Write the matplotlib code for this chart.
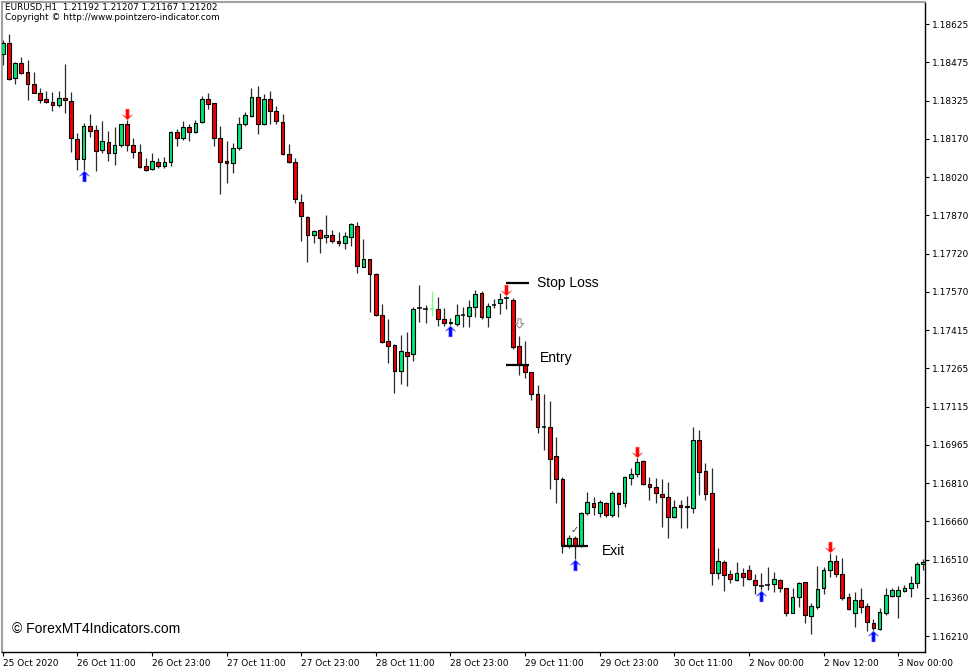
import numpy as np
import matplotlib
matplotlib.use("Agg")
import matplotlib.pyplot as plt

OUTPUT_FILE = "out.png"

# EURUSD H1 candles (one row of ten bars per line)
opens = [
    1.18507, 1.18549, 1.18411, 1.18470, 1.18437, 1.18387, 1.18354, 1.18328, 1.18318, 1.18305,
    1.18332, 1.18321, 1.18170, 1.18091, 1.18224, 1.18207, 1.18128, 1.18161, 1.18115, 1.18147,
    1.18231, 1.18148, 1.18121, 1.18065, 1.18052, 1.18081, 1.18065, 1.18080, 1.18200, 1.18177,
    1.18219, 1.18198, 1.18237, 1.18328, 1.18312, 1.18177, 1.18085, 1.18078, 1.18135, 1.18231,
    1.18262, 1.18338, 1.18231, 1.18328, 1.18282, 1.18237, 1.18111, 1.18080, 1.17922, 1.17863,
    1.17793, 1.17812, 1.17784, 1.17793, 1.17769, 1.17760, 1.17784, 1.17828, 1.17668, 1.17697,
    1.17638, 1.17476, 1.17374, 1.17357, 1.17257, 1.17330, 1.17322, 1.17504, 1.17501, 1.17501,
    1.17500, 1.17460, 1.17444, 1.17443, 1.17475, 1.17474, 1.17507, 1.17565, 1.17470, 1.17517,
    1.17523, 1.17543, 1.17536, 1.17355, 1.17280, 1.17251, 1.17164, 1.17036, 1.17034, 1.16921,
    1.16830, 1.16566, 1.16596, 1.16566, 1.16695, 1.16734, 1.16695, 1.16734, 1.16688, 1.16773,
    1.16734, 1.16833, 1.16850, 1.16901, 1.16809, 1.16800, 1.16770, 1.16760, 1.16681, 1.16727,
    1.16723, 1.16717, 1.16984, 1.16861, 1.16773, 1.16458, 1.16503, 1.16455, 1.16431, 1.16458,
    1.16471, 1.16431, 1.16409, 1.16412, 1.16414, 1.16431, 1.16399, 1.16302, 1.16363, 1.16422,
    1.16289, 1.16324, 1.16399, 1.16471, 1.16505, 1.16454, 1.16365, 1.16300, 1.16352, 1.16329,
    1.16263, 1.16237, 1.16302, 1.16369, 1.16369, 1.16388, 1.16399, 1.16418, 1.16493,
]
highs = [
    1.18562, 1.18586, 1.18477, 1.18496, 1.18483, 1.18437, 1.18372, 1.18361, 1.18358, 1.18361,
    1.18466, 1.18356, 1.18194, 1.18233, 1.18269, 1.18227, 1.18242, 1.18203, 1.18220, 1.18231,
    1.18247, 1.18174, 1.18151, 1.18095, 1.18117, 1.18098, 1.18100, 1.18203, 1.18210, 1.18242,
    1.18230, 1.18247, 1.18342, 1.18354, 1.18315, 1.18223, 1.18164, 1.18155, 1.18260, 1.18278,
    1.18372, 1.18381, 1.18348, 1.18361, 1.18302, 1.18269, 1.18151, 1.18095, 1.17953, 1.17868,
    1.17812, 1.17815, 1.17872, 1.17812, 1.17803, 1.17803, 1.17841, 1.17845, 1.17776, 1.17699,
    1.17642, 1.17520, 1.17460, 1.17361, 1.17398, 1.17410, 1.17510, 1.17594, 1.17515, 1.17572,
    1.17549, 1.17504, 1.17464, 1.17520, 1.17509, 1.17536, 1.17576, 1.17573, 1.17523, 1.17539,
    1.17563, 1.17552, 1.17543, 1.17394, 1.17376, 1.17253, 1.17201, 1.17165, 1.17139, 1.16994,
    1.16839, 1.16609, 1.16606, 1.16701, 1.16780, 1.16760, 1.16747, 1.16740, 1.16783, 1.16780,
    1.16843, 1.16872, 1.16912, 1.16905, 1.16839, 1.16833, 1.16830, 1.16817, 1.16747, 1.16747,
    1.16763, 1.17036, 1.17023, 1.16892, 1.16872, 1.16559, 1.16510, 1.16471, 1.16503, 1.16478,
    1.16491, 1.16455, 1.16458, 1.16484, 1.16464, 1.16434, 1.16401, 1.16399, 1.16425, 1.16425,
    1.16342, 1.16487, 1.16484, 1.16537, 1.16530, 1.16519, 1.16379, 1.16383, 1.16399, 1.16339,
    1.16276, 1.16320, 1.16401, 1.16401, 1.16409, 1.16412, 1.16447, 1.16503, 1.16513,
]
lows = [
    1.18464, 1.18404, 1.18387, 1.18427, 1.18325, 1.18352, 1.18315, 1.18312, 1.18283, 1.18299,
    1.18273, 1.18121, 1.18049, 1.18049, 1.18181, 1.18046, 1.18115, 1.18086, 1.18069, 1.18141,
    1.18125, 1.18098, 1.18056, 1.18046, 1.18049, 1.18056, 1.18056, 1.18066, 1.18144, 1.18168,
    1.18164, 1.18196, 1.18233, 1.18289, 1.18145, 1.17954, 1.17997, 1.18036, 1.18128, 1.18223,
    1.18258, 1.18191, 1.18227, 1.18231, 1.18231, 1.18108, 1.18076, 1.17918, 1.17770, 1.17687,
    1.17762, 1.17720, 1.17762, 1.17762, 1.17750, 1.17736, 1.17749, 1.17642, 1.17665, 1.17490,
    1.17473, 1.17365, 1.17289, 1.17170, 1.17205, 1.17198, 1.17297, 1.17451, 1.17447, 1.17474,
    1.17435, 1.17435, 1.17437, 1.17435, 1.17431, 1.17431, 1.17470, 1.17463, 1.17431, 1.17504,
    1.17481, 1.17500, 1.17343, 1.17240, 1.17227, 1.17142, 1.17013, 1.16944, 1.16789, 1.16734,
    1.16539, 1.16556, 1.16513, 1.16563, 1.16688, 1.16688, 1.16679, 1.16681, 1.16681, 1.16679,
    1.16718, 1.16806, 1.16839, 1.16806, 1.16747, 1.16734, 1.16642, 1.16596, 1.16675, 1.16635,
    1.16635, 1.16695, 1.16767, 1.16747, 1.16412, 1.16434, 1.16389, 1.16418, 1.16429, 1.16408,
    1.16431, 1.16376, 1.16392, 1.16392, 1.16385, 1.16385, 1.16291, 1.16300, 1.16326, 1.16263,
    1.16217, 1.16316, 1.16376, 1.16444, 1.16444, 1.16352, 1.16313, 1.16245, 1.16300, 1.16230,
    1.16234, 1.16234, 1.16293, 1.16365, 1.16283, 1.16385, 1.16363, 1.16401, 1.16471,
]
closes = [
    1.18550, 1.18408, 1.18470, 1.18433, 1.18387, 1.18354, 1.18325, 1.18319, 1.18305, 1.18332,
    1.18324, 1.18174, 1.18091, 1.18224, 1.18204, 1.18124, 1.18164, 1.18115, 1.18147, 1.18230,
    1.18148, 1.18121, 1.18062, 1.18049, 1.18085, 1.18065, 1.18081, 1.18198, 1.18174, 1.18219,
    1.18198, 1.18233, 1.18328, 1.18310, 1.18177, 1.18082, 1.18078, 1.18137, 1.18230, 1.18266,
    1.18338, 1.18231, 1.18328, 1.18282, 1.18244, 1.18111, 1.18080, 1.17934, 1.17868, 1.17793,
    1.17809, 1.17780, 1.17793, 1.17770, 1.17762, 1.17789, 1.17836, 1.17670, 1.17697, 1.17639,
    1.17476, 1.17372, 1.17355, 1.17256, 1.17336, 1.17316, 1.17500, 1.17504, 1.17501, 1.17501,
    1.17460, 1.17444, 1.17449, 1.17475, 1.17475, 1.17507, 1.17560, 1.17468, 1.17513, 1.17517,
    1.17539, 1.17543, 1.17352, 1.17282, 1.17251, 1.17164, 1.17034, 1.17036, 1.16909, 1.16830,
    1.16566, 1.16596, 1.16566, 1.16695, 1.16738, 1.16718, 1.16738, 1.16688, 1.16773, 1.16731,
    1.16837, 1.16850, 1.16898, 1.16810, 1.16800, 1.16776, 1.16760, 1.16679, 1.16721, 1.16721,
    1.16718, 1.16984, 1.16859, 1.16771, 1.16458, 1.16506, 1.16451, 1.16434, 1.16458, 1.16442,
    1.16434, 1.16410, 1.16409, 1.16412, 1.16434, 1.16399, 1.16302, 1.16363, 1.16418, 1.16293,
    1.16330, 1.16395, 1.16471, 1.16505, 1.16454, 1.16362, 1.16316, 1.16352, 1.16324, 1.16267,
    1.16241, 1.16304, 1.16372, 1.16392, 1.16392, 1.16399, 1.16418, 1.16495, 1.16501,
]

# indicator signals
buy_arrow_bars = [13, 72, 92, 122, 140]
sell_arrow_bars = [20, 81, 102, 133]
pale_bars = [69]
check_bar = 92
hint_arrow_bar = 83

# trade levels and the bars each marker line spans
stop_loss = 1.17602
entry_price = 1.17280
exit_price = 1.16566
entry_span = (80.9, 84.6)
exit_span = (89.9, 94.1)

price_labels = [
    "1.18625", "1.18475", "1.18325", "1.18170", "1.18020", "1.17870", "1.17720",
    "1.17570", "1.17415", "1.17265", "1.17115", "1.16965", "1.16810", "1.16660",
    "1.16510", "1.16360", "1.16210",
]
date_labels = [
    "25 Oct 2020", "26 Oct 11:00", "26 Oct 23:00", "27 Oct 11:00", "27 Oct 23:00",
    "28 Oct 11:00", "28 Oct 23:00", "29 Oct 11:00", "29 Oct 23:00", "30 Oct 11:00",
    "2 Nov 00:00", "2 Nov 12:00", "3 Nov 00:00",
]
bars_per_date_label = 12

header_line = "EURUSD,H1  1.21192 1.21207 1.21167 1.21202"
copyright_line = "Copyright \u00a9 http://www.pointzero-indicator.com"
watermark = "\u00a9 ForexMT4Indicators.com"

BULL = "#00E676"
BEAR = "#F00000"
WICK = "#2a2a2a"
PALE = "#7CFC7C"
UP_ARROW = [(0, 1), (0.95, 0.05), (0.3, 0.4), (0.3, -1), (-0.3, -1), (-0.3, 0.4), (-0.95, 0.05), (0, 1)]
DOWN_ARROW = [(x, -y) for x, y in UP_ARROW]
HOLLOW_DOWN = [(0, -1), (0.9, 0.0), (0.35, 0.0), (0.35, 1), (-0.35, 1), (-0.35, 0.0), (-0.9, 0.0), (0, -1)]


def draw_candles(ax):
    o = np.array(opens)
    h = np.array(highs)
    l = np.array(lows)
    c = np.array(closes)
    x = np.arange(len(o))

    wick_colors = [PALE if i in pale_bars else WICK for i in x]
    ax.vlines(x, l, h, colors=wick_colors, linewidth=0.9, zorder=2)

    body = c != o
    fills = np.where(c > o, BULL, BEAR)
    ax.bar(x[body], np.abs(c - o)[body], bottom=np.minimum(o, c)[body], width=0.6,
           color=fills[body], edgecolor="black", linewidth=0.8, zorder=3)

    doji = ~body
    doji_colors = [PALE if i in pale_bars else "black" for i in x[doji]]
    ax.hlines(o[doji], x[doji] - 0.35, x[doji] + 0.35, colors=doji_colors,
              linewidth=1.1, zorder=3)


def draw_signals(ax):
    offset = 0.00024
    buys = np.array(buy_arrow_bars)
    sells = np.array(sell_arrow_bars)
    ax.scatter(buys, np.array(lows)[buys] - offset, marker=UP_ARROW, s=60,
               color="#0000FF", edgecolors="#6060FF", linewidths=0.4, zorder=4)
    ax.scatter(sells, np.array(highs)[sells] + offset, marker=DOWN_ARROW, s=60,
               color="#FF0000", edgecolors="#FF6060", linewidths=0.4, zorder=4)

    ax.text(check_bar, highs[check_bar] + 0.00022, "\u2713", fontsize=7,
            color="#333333", ha="center", va="center", zorder=4)
    ax.scatter([hint_arrow_bar], [highs[hint_arrow_bar] + 0.00053], marker=HOLLOW_DOWN, s=45,
               facecolors="white", edgecolors="#8a8a8a", linewidths=0.7, zorder=4)


def draw_trade_levels(ax):
    text_style = dict(fontsize=10, family="Liberation Sans", color="black", va="center")

    ax.hlines(stop_loss, entry_span[0], entry_span[1], color="black", linewidth=1.6, zorder=5)
    ax.text(entry_span[1] + 1.3, stop_loss, "Stop Loss", **text_style)

    ax.hlines(entry_price, entry_span[0], entry_span[1], color="black", linewidth=1.6, zorder=5)
    ax.text(entry_span[1] + 1.8, entry_price + 0.00027, "Entry", **text_style)

    ax.hlines(exit_price, exit_span[0], exit_span[1], color="black", linewidth=1.6, zorder=5)
    ax.text(exit_span[1] + 2.2, exit_price - 0.0002, "Exit", **text_style)


def style_axes(ax):
    n = len(opens)
    ax.set_xlim(-0.11, n - 0.7)
    ax.set_ylim(1.16147, 1.18712)

    ax.yaxis.tick_right()
    ax.set_yticks(np.linspace(1.18625, 1.16210, len(price_labels)))
    ax.set_yticklabels(price_labels)

    ax.set_xticks(np.arange(len(date_labels)) * bars_per_date_label)
    ax.set_xticklabels(date_labels, ha="left")

    ax.tick_params(axis="y", length=3, width=0.8, pad=2, labelsize=6.5, direction="out")
    ax.tick_params(axis="x", length=3, width=0.8, pad=2, labelsize=6.5, direction="out")

    for side in ["left", "top"]:
        ax.spines[side].set_color("#A0A0A0")
        ax.spines[side].set_linewidth(1.5)
    for side in ["right", "bottom"]:
        ax.spines[side].set_color("black")
        ax.spines[side].set_linewidth(1.0)


def main() -> None:
    fig = plt.figure(figsize=(9.77, 6.70), dpi=100)
    ax = fig.add_axes([2 / 977, 18 / 670, 923 / 977, 650 / 670])

    draw_candles(ax)
    draw_signals(ax)
    draw_trade_levels(ax)
    style_axes(ax)

    fig.text(5 / 977, 1 - 3 / 670, header_line, fontsize=6.4, va="top", ha="left")
    fig.text(5 / 977, 1 - 13 / 670, copyright_line, fontsize=6.4, va="top", ha="left")
    ax.text(0.011, 0.025, watermark, transform=ax.transAxes, fontsize=10,
            family="Liberation Sans", va="bottom", ha="left")

    fig.savefig(OUTPUT_FILE, dpi=100)
    plt.close(fig)


if __name__ == "__main__":
    main()
